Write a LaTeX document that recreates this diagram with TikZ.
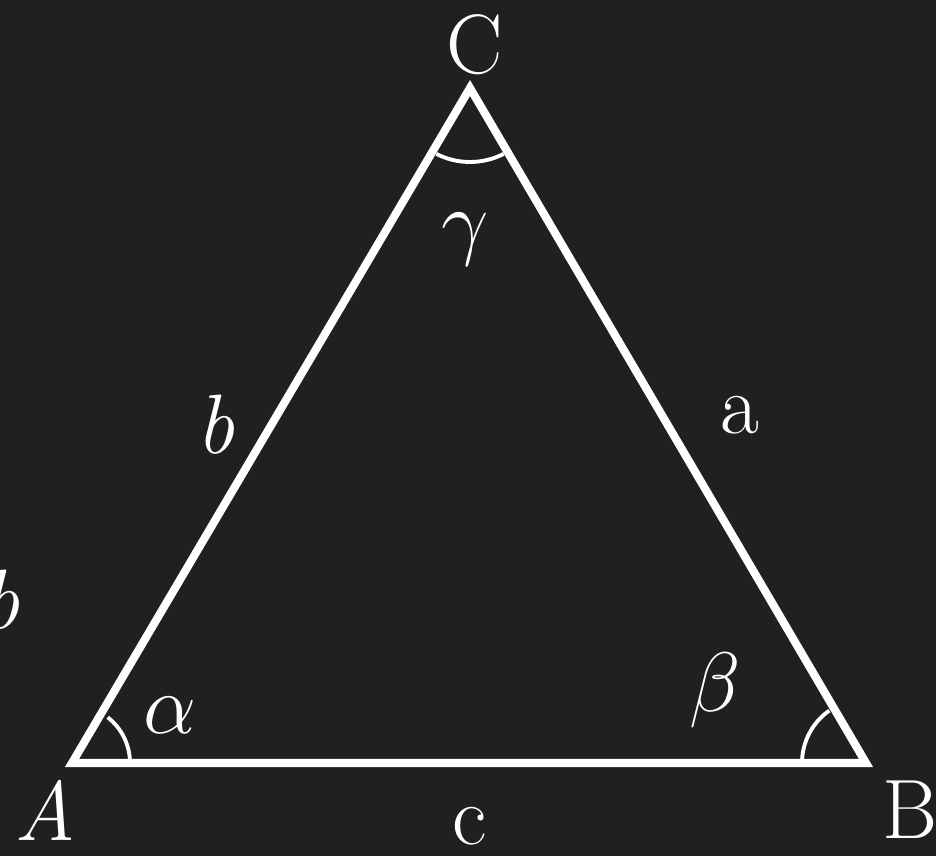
\RequirePackage{fix-cm}
\documentclass[tikz,border=0pt]{standalone}
\usepackage{fontspec}
\definecolor{board}{RGB}{32,32,32}
\begin{document}
\begin{tikzpicture}[x=0.02cm,y=0.02cm,line join=miter]
\tikzset{lbl/.style={text=white,font=\fontsize{48}{56}\selectfont,inner sep=0pt},
  side/.style={draw=white,line width=4.6pt},
  ang/.style={draw=white,line width=2.2pt}}
\fill[board] (0,0) rectangle (936,856);
\clip (0,0) rectangle (936,856);

\coordinate (A) at (72,93);
\coordinate (B) at (866,93);
\coordinate (C) at (470,768);

\draw[side] (A) -- (B) -- (C) -- cycle;

% angle marks
\draw[ang] ([shift={(0:58)}]A) arc (0:52:58);
\draw[ang] ([shift={(180:64)}]B) arc (180:125:64);
\draw[ang] ([shift={(243:74)}]C) arc (243:297:74);

% vertices
\node[lbl] (lA) at (45,46) {\itshape A};
\node[lbl] (lB) at (910,46) {B};
\node[lbl] (lC) at (475,811) {C};

% sides
\node[lbl] (la) at (740,441) {a};
\node[lbl] (lb) at (215,431) {\itshape b};
\node[lbl] (lc) at (470,30) {c};
\node[lbl] (lbb) at (0,256) {\itshape b};

% angles
\node[lbl] (lal) at (170,141) {$\alpha$};
\node[lbl] (lbe) at (715,166) {$\beta$};
\node[lbl] (lga) at (465,616) {$\gamma$};
\end{tikzpicture}
\end{document}
